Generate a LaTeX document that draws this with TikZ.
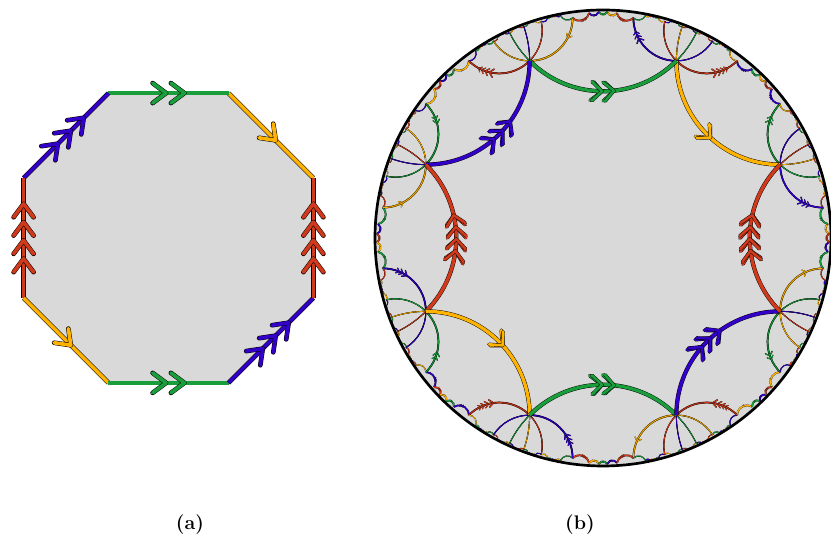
\documentclass[tikz,border=0pt]{standalone}

\definecolor{edgegreen}{HTML}{1A9E3C}
\definecolor{edgeblue}{HTML}{3300C8}
\definecolor{edgered}{HTML}{D03A1C}
\definecolor{edgeorange}{HTML}{FFB300}
\definecolor{facegray}{HTML}{D9D9D9}

\tikzset{
  flatedge/.style={line width=0.35pt, double distance=2.5pt},
  chev/.style={line width=0.35pt, double distance=2.6pt, line cap=round, line join=round},
  rim/.style={line width=1.9pt},
  caption/.style={font=\fontsize{14}{16}\selectfont\bfseries},
}

% colour of side j of the octagon
\newcommand\sidecol[1]{\ifcase\numexpr#1\relax edgeorange\or edgegreen\or edgeblue\or edgered\or
  edgeorange\or edgegreen\or edgeblue\or edgered\fi}

% {8,8} octagon in the unit disk: corner radius, side circles
\edef\vr{\fpeval{2^(-0.25)}}
\edef\cd{\fpeval{(1+\vr*\vr)/(2*\vr*cosd(22.5))}}
\edef\sr{\fpeval{sqrt(\cd*\cd-1)}}
\edef\chs{\fpeval{12/228}}
\edef\cha{\fpeval{10/228}}
\edef\chw{\fpeval{9.5/228}}
\foreach \j in {0,...,8}{
  \expandafter\xdef\csname hvx\j\endcsname{\fpeval{\vr*cosd(22.5+45*\j)}}
  \expandafter\xdef\csname hvy\j\endcsname{\fpeval{\vr*sind(22.5+45*\j)}}
}

% current map z -> (Az+B)/(Cz+D)
\newcommand\setid{%
  \def\hAr{1}\def\hAi{0}\def\hBr{0}\def\hBi{0}%
  \def\hCr{0}\def\hCi{0}\def\hDr{1}\def\hDi{0}\def\hw{1}}
\newcommand\setrot[2]{% turn 135*#2 round 0, then -45*#2 round corner #1
  \edef\hp{\csname hvx#1\endcsname}\edef\hq{\csname hvy#1\endcsname}%
  \edef\hct{\fpeval{cosd(-45*#2)}}\edef\hst{\fpeval{sind(-45*#2)}}%
  \edef\hcf{\fpeval{cosd(135*#2)}}\edef\hsf{\fpeval{sind(135*#2)}}%
  \edef\hrr{\fpeval{\vr*\vr}}%
  \edef\hAr{\fpeval{((\hct)-\hrr)*(\hcf)-(\hst)*(\hsf)}}%
  \edef\hAi{\fpeval{((\hct)-\hrr)*(\hsf)+(\hst)*(\hcf)}}%
  \edef\hBr{\fpeval{(\hp)*(1-(\hct))+(\hq)*(\hst)}}%
  \edef\hBi{\fpeval{(\hq)*(1-(\hct))-(\hp)*(\hst)}}%
  \edef\hcr{\fpeval{(\hp)*((\hct)-1)+(\hq)*(\hst)}}%
  \edef\hci{\fpeval{(\hp)*(\hst)-(\hq)*((\hct)-1)}}%
  \edef\hCr{\fpeval{(\hcr)*(\hcf)-(\hci)*(\hsf)}}%
  \edef\hCi{\fpeval{(\hcr)*(\hsf)+(\hci)*(\hcf)}}%
  \edef\hDr{\fpeval{1-\hrr*(\hct)}}%
  \edef\hDi{\fpeval{-\hrr*(\hst)}}%
  \edef\hw{\fpeval{sqrt((1-\hrr)^2/((\hDr)^2+(\hDi)^2))}}}
\newcommand\hmap[2]{%
  \edef\hzx{\fpeval{#1}}\edef\hzy{\fpeval{#2}}%
  \edef\hnr{\fpeval{(\hAr)*(\hzx)-(\hAi)*(\hzy)+(\hBr)}}%
  \edef\hnx{\fpeval{(\hAr)*(\hzy)+(\hAi)*(\hzx)+(\hBi)}}%
  \edef\hdr{\fpeval{(\hCr)*(\hzx)-(\hCi)*(\hzy)+(\hDr)}}%
  \edef\hdx{\fpeval{(\hCr)*(\hzy)+(\hCi)*(\hzx)+(\hDi)}}%
  \edef\hx{\fpeval{round(((\hnr)*(\hdr)+(\hnx)*(\hdx))/((\hdr)^2+(\hdx)^2),7)}}%
  \edef\hy{\fpeval{round(((\hnx)*(\hdr)-(\hnr)*(\hdx))/((\hdr)^2+(\hdx)^2),7)}}}
% geodesic from (#1,#2) to (#3,#4)
\newcommand\hgeo[4]{%
  \edef\hha{\fpeval{(1+(#1)^2+(#2)^2)/2}}%
  \edef\hhb{\fpeval{(1+(#3)^2+(#4)^2)/2}}%
  \edef\hdt{\fpeval{(#1)*(#4)-(#2)*(#3)}}%
  \edef\hcx{\fpeval{((\hha)*(#4)-(#2)*(\hhb))/(\hdt)}}%
  \edef\hcy{\fpeval{((#1)*(\hhb)-(\hha)*(#3))/(\hdt)}}%
  \edef\hgr{\fpeval{round(sqrt((\hcx)^2+(\hcy)^2-1),7)}}%
  \edef\hsa{\fpeval{round(atand((#2)-(\hcy),(#1)-(\hcx)),4)}}%
  \edef\hsb{\fpeval{atand((#4)-(\hcy),(#3)-(\hcx))}}%
  \edef\hsb{\fpeval{round((\hsb)-360*round(((\hsb)-(\hsa))/360),4)}}%
  \draw[line width=\hlw, double=\hcol, double distance=\hdd]
    (#1,#2) arc[start angle=\hsa, end angle=\hsb, radius=\hgr];}
% arrow heads on side \j
\newcommand\hchev{%
  \edef\cvn{\ifcase\numexpr\j\relax 1\or 2\or 3\or 4\or 1\or 2\or 3\or 4\fi}%
  \edef\cvs{\ifnum\j<4 1\else -1\fi}%
  \foreach \k in {1,...,\cvn}{%
    \edef\cvu{\fpeval{((\cvn-1)*\chs+\cha)/2-(\k-1)*\chs}}%
    \edef\cvt{\fpeval{45*(\j+1)+180+(\cvs)*(\cvu)/\sr*180/pi}}%
    \edef\cvx{\fpeval{\cd*cosd(45*(\j+1))+\sr*cosd(\cvt)}}%
    \edef\cvy{\fpeval{\cd*sind(45*(\j+1))+\sr*sind(\cvt)}}%
    \edef\cvdx{\fpeval{-(\cvs)*sind(\cvt)}}%
    \edef\cvdy{\fpeval{(\cvs)*cosd(\cvt)}}%
    \hmap{\cvx}{\cvy}\let\tipx\hx\let\tipy\hy
    \hmap{(\cvx)-\cha*(\cvdx)-\chw*(\cvdy)}{(\cvy)-\cha*(\cvdy)+\chw*(\cvdx)}%
    \let\armx\hx\let\army\hy
    \hmap{(\cvx)-\cha*(\cvdx)+\chw*(\cvdy)}{(\cvy)-\cha*(\cvdy)-\chw*(\cvdx)}%
    \edef\cvf{\fpeval{sqrt(((\armx)-(\tipx))^2+((\army)-(\tipy))^2)/sqrt(\cha^2+\chw^2)}}%
    \edef\clw{\fpeval{0.3*\cvf}pt}\edef\cdd{\fpeval{1.9*\cvf}pt}%
    \draw[chev, double=\hcol, line width=\clw, double distance=\cdd]
      (\armx,\army) -- (\tipx,\tipy) -- (\hx,\hy);
  }}
% one octagon under the current map; #1=1 puts the arrow heads on
\newcommand\hoct[1]{%
  \edef\hlw{\fpeval{max(0.12,0.3*\hw)}pt}%
  \edef\hdd{\fpeval{2.4*\hw}pt}%
  \foreach \j in {0,...,7}{%
    \edef\hcol{\sidecol{\j}}%
    \edef\jn{\the\numexpr\j+1\relax}%
    \hmap{\csname hvx\j\endcsname}{\csname hvy\j\endcsname}%
    \let\hxa\hx\let\hya\hy
    \hmap{\csname hvx\jn\endcsname}{\csname hvy\jn\endcsname}%
    \hgeo{\hxa}{\hya}{\hx}{\hy}%
    \ifnum#1=1 \hchev\fi
  }}

\begin{document}
\begin{tikzpicture}[x=0.025cm,y=0.025cm]
  \useasboundingbox (0,0) rectangle (831,537);

  % (a) the octagon with its sides glued
  \begin{scope}[shift={(168.5,299)}]
    \foreach \j in {0,...,8}
      \coordinate (a\j) at (22.5+45*\j:156.8);
    \fill[facegray] (a0) -- (a1) -- (a2) -- (a3) -- (a4) -- (a5) -- (a6) -- (a7) -- cycle;
    \foreach \j/\col in {0/edgeorange,1/edgegreen,2/edgeblue,3/edgered,
                         4/edgeorange,5/edgegreen,6/edgeblue,7/edgered}{
      \pgfmathtruncatemacro\jn{\j+1}
      \draw[flatedge, double=\col] (a\j) -- (a\jn);
    }
    \foreach \j/\col/\n/\d in {0/edgeorange/1/-45,1/edgegreen/2/0,2/edgeblue/3/45,3/edgered/4/90,
                               4/edgeorange/1/-45,5/edgegreen/2/0,6/edgeblue/3/45,7/edgered/4/90}{
      \begin{scope}[shift={(45*\j+45:144.9)}, rotate=\d]
        \foreach \k in {1,...,\n}{
          \pgfmathsetmacro\u{((\n-1)*18.3+13.5)/2-(\k-1)*18.3}
          \draw[chev, double=\col] (\u-13.5,10) -- (\u,0) -- (\u-13.5,-10);
        }
      \end{scope}
    }
  \end{scope}

  % (b) the tiling of the Poincare disk
  \begin{scope}[shift={(603,299)}, scale=228]
    \fill[facegray] (0,0) circle (1);
    \foreach \i in {0,...,7}
      \foreach \m in {1,...,6}{
        \setrot{\i}{\m}
        \hoct{\m}
      }
    \setid
    \hoct{1}
    \draw[rim] (0,0) circle (1);
  \end{scope}

  \node[caption] (capa) at (190,12) {(a)};
  \node[caption] (capb) at (580,12) {(b)};
\end{tikzpicture}
\end{document}
